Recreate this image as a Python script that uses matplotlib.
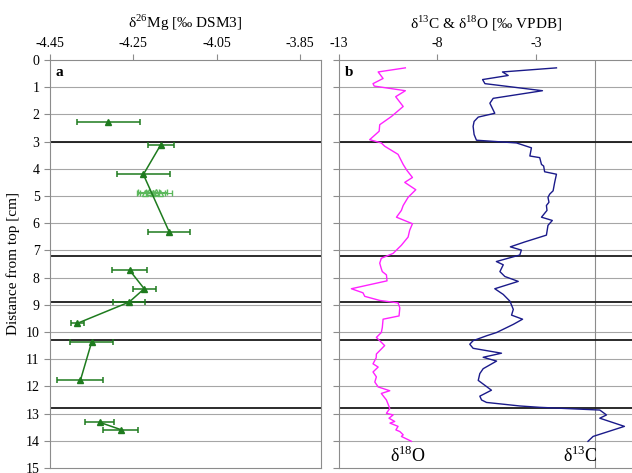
import matplotlib
matplotlib.use("Agg")
from matplotlib import pyplot as plt

plt.rcParams['font.family'] = ['Liberation Serif', 'DejaVu Serif']
plt.rcParams['mathtext.fontset'] = 'custom'
plt.rcParams['mathtext.rm'] = 'Liberation Serif'

# panel a: d26Mg (segments split by group)
mg_depth = [2.27, 3.11, 4.21, 6.32, 7.73, 8.41, 8.90, 9.68, 10.37, 11.78, 13.32, 13.59]
mg_val = [-4.31, -4.184, -4.226, -4.164, -4.259, -4.224, -4.26, -4.384, -4.35, -4.377, -4.331, -4.28]
mg_err = [0.075, 0.032, 0.064, 0.05, 0.042, 0.028, 0.038, 0.016, 0.051, 0.055, 0.035, 0.042]
mg_group = [0, 1, 1, 1, 2, 2, 2, 2, 3, 3, 4, 4]

# replicate cluster near 4.9 cm
rep_depth = [4.88, 4.87, 4.88, 4.87, 4.88]
rep_val = [-4.222, -4.213, -4.203, -4.195, -4.187]
rep_err = [0.02, 0.025, 0.03, 0.025, 0.03]

# panel b: d18O
o_depth = [0.29, 0.44, 0.68, 0.87, 0.96, 1.13, 1.35, 1.71, 2.08, 2.38, 2.62, 2.93, 3.05, 3.17,
           3.47, 3.84, 4.05, 4.32, 4.50, 4.77, 5.05, 5.35, 5.53, 5.78, 6.02, 6.26, 6.51, 6.81,
           7.11, 7.29, 7.47, 7.65, 7.78, 7.90, 8.12, 8.41, 8.56, 8.69, 8.84, 8.93, 9.11, 9.41,
           9.53, 9.84, 10.02, 10.20, 10.50, 10.81, 10.95, 11.17, 11.29, 11.47, 11.65, 11.84,
           12.02, 12.16, 12.26, 12.50, 12.81, 12.99, 13.05, 13.17, 13.29, 13.35, 13.47, 13.60,
           13.66, 13.78, 13.84, 14.02]
o_val = [-9.62, -11.0, -10.75, -11.26, -11.2, -9.62, -10.11, -9.73, -10.33, -10.92, -10.95,
         -11.43, -10.84, -10.67, -9.99, -9.73, -9.55, -9.26, -9.65, -9.09, -9.48, -9.73, -9.82,
         -10.07, -9.26, -9.40, -9.48, -9.82, -10.24, -10.84, -10.92, -10.85, -10.79, -10.58,
         -10.55, -12.36, -11.77, -11.68, -10.92, -9.99, -9.90, -9.94, -10.75, -10.79, -10.84,
         -11.09, -10.67, -11.09, -11.10, -11.26, -11.0, -11.26, -11.09, -11.17, -11.0, -10.41,
         -10.84, -10.58, -10.41, -10.58, -10.24, -10.45, -10.16, -10.40, -9.99, -10.10, -9.90,
         -9.73, -9.82, -9.31]

# panel b: d13C
c_depth = [0.29, 0.44, 0.57, 0.72, 0.87, 1.13, 1.41, 1.59, 1.96, 2.10, 2.26, 2.44, 2.74, 2.95,
           3.05, 3.23, 3.53, 3.59, 3.84, 3.90, 4.11, 4.20, 4.50, 4.81, 4.93, 5.05, 5.23, 5.35,
           5.53, 5.78, 5.90, 6.08, 6.44, 6.69, 6.87, 6.99, 7.17, 7.41, 7.53, 7.78, 7.96, 8.14,
           8.41, 8.62, 8.87, 9.17, 9.38, 9.53, 9.72, 10.02, 10.14, 10.32, 10.45, 10.60, 10.78,
           10.93, 11.07, 11.35, 11.53, 11.78, 12.14, 12.36, 12.50, 12.59, 12.72, 12.77, 12.87,
           13.05, 13.17, 13.47, 13.84, 14.02]
c_val = [-1.95, -4.69, -4.40, -5.70, -5.58, -2.66, -5.16, -5.33, -5.08, -5.92, -6.13, -6.18,
         -6.13, -6.01, -3.98, -3.22, -3.30, -2.80, -2.71, -2.60, -2.55, -1.95, -2.04, -2.12,
         -2.29, -2.38, -2.33, -2.46, -2.43, -2.71, -2.16, -2.38, -2.46, -3.56, -4.29, -3.73,
         -3.81, -5.0, -4.65, -4.82, -4.57, -3.89, -5.08, -4.65, -4.31, -4.14, -4.23, -3.67,
         -4.14, -4.99, -5.50, -6.18, -6.35, -6.18, -4.74, -5.67, -4.99, -5.67, -5.84, -5.92,
         -5.25, -5.84, -5.75, -5.50, -3.81, -2.80, 0.25, 0.59, 0.25, 1.5, -0.09, -0.35]

boundaries = [3.0, 7.2, 8.9, 10.3, 12.8]

grid_col = '#a6a6a6'
green = '#1e7b1e'
light_green = '#5cb85c'

fig = plt.figure(figsize=(6.32, 4.73), dpi=100)
ax1 = fig.add_axes([0.079, 0.0106, 0.429, 0.8626])
ax2 = fig.add_axes([0.536, 0.0106, 0.4676, 0.8626])

for ax in (ax1, ax2):
    ax.set_ylim(15, 0)
    ax.set_yticks(range(0, 16))
    ax.xaxis.tick_top()
    ax.xaxis.set_label_position('top')
    for y in range(1, 15):
        ax.axhline(y, color=grid_col, lw=0.8, zorder=0)
    for b in boundaries:
        ax.axhline(b, color='#1a1a1a', lw=1.3, zorder=1)
    for s in ax.spines.values():
        s.set_color('#8c8c8c')
        s.set_linewidth(0.8)
    ax.tick_params(axis='both', colors='#8c8c8c', labelcolor='black', labelsize=10,
                   length=4, width=0.8)

# panel a
ax1.set_xlim(-4.45, -3.80)
ax1.set_xticks([-4.45, -4.25, -4.05, -3.85])
ax1.set_xticklabels(['-4.45', '-4.25', '-4.05', '-3.85'])
ax1.set_xlabel('δ$^{26}$Mg [‰ DSM3]', fontsize=11, labelpad=6)
ax1.set_ylabel('Distance from top [cm]', fontsize=11)
for g in sorted(set(mg_group)):
    xs = [v for v, k in zip(mg_val, mg_group) if k == g]
    ys = [d for d, k in zip(mg_depth, mg_group) if k == g]
    es = [e for e, k in zip(mg_err, mg_group) if k == g]
    ax1.errorbar(xs, ys, xerr=es, color=green, marker='^', ms=5, lw=1.1,
                 capsize=2.5, elinewidth=1.1, capthick=1.1, zorder=3)
ax1.errorbar(rep_val, rep_depth, xerr=rep_err, color=light_green, marker='^', ms=5,
             mfc='none', ls='none', capsize=2, elinewidth=0.8, zorder=2)
ax1.text(0.02, 0.985, 'a', transform=ax1.transAxes, fontsize=11, fontweight='bold',
         va='top', ha='left')

# panel b
ax2.set_xlim(-13, 2)
ax2.set_xticks([-13, -8, -3])
ax2.set_xticklabels(['-13', '-8', '-3'])
ax2.set_yticklabels([])
ax2.spines['right'].set_visible(False)
ax2.set_xlabel('δ$^{13}$C & δ$^{18}$O [‰ VPDB]', fontsize=11, labelpad=6)
ax2.axvline(0, color='#8c8c8c', lw=0.8, zorder=0)
ax2.plot(o_val, o_depth, color='#ff22ff', lw=1.0, zorder=3)
ax2.plot(c_val, c_depth, color='#1a1a8a', lw=1.0, zorder=3)
ax2.text(-9.5, 14.55, 'δ$^{18}$O', fontsize=13, ha='center', va='center')
ax2.text(-0.75, 14.55, 'δ$^{13}$C', fontsize=13, ha='center', va='center')
ax2.text(0.02, 0.985, 'b', transform=ax2.transAxes, fontsize=11, fontweight='bold',
         va='top', ha='left')

fig.savefig('out.png', dpi=100)
